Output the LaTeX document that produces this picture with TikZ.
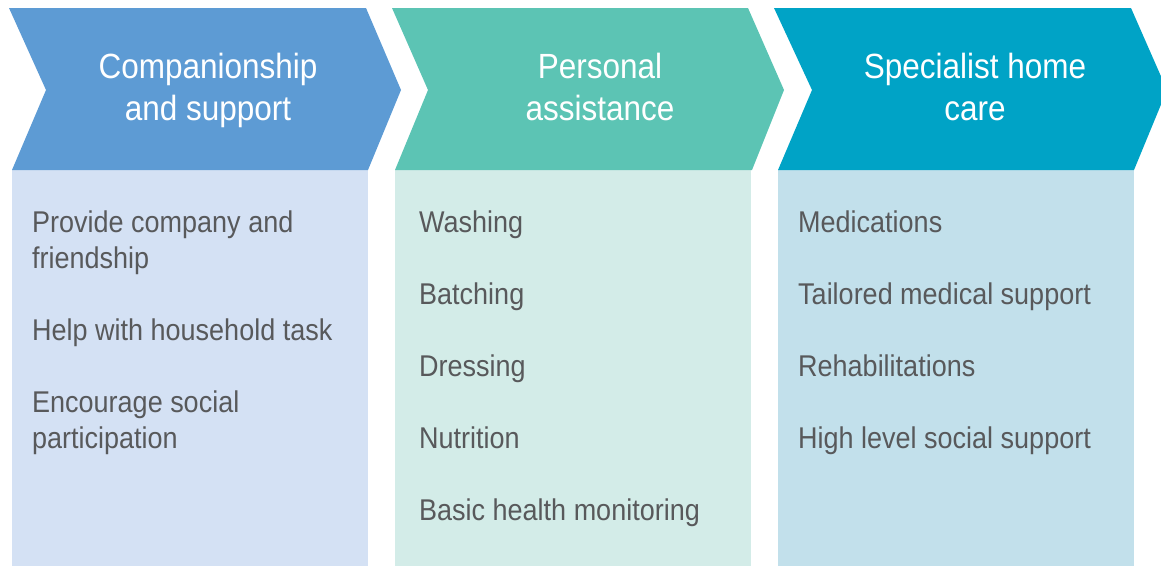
\documentclass[tikz,border=0pt]{standalone}
\usepackage{fontspec}
\setmainfont{Liberation Sans}[FakeStretch=0.9]
\definecolor{headA}{HTML}{5D9BD4}
\definecolor{bodyA}{HTML}{D4E1F4}
\definecolor{headB}{HTML}{5CC4B4}
\definecolor{bodyB}{HTML}{D3ECE8}
\definecolor{headC}{HTML}{00A3C6}
\definecolor{bodyC}{HTML}{C2E0EB}
\definecolor{txtgray}{HTML}{58595B}
\begin{document}
\begin{tikzpicture}[x=1pt,y=-1pt,
  head/.style={text=white,font=\fontsize{35}{42}\selectfont,anchor=base,inner sep=0pt},
  item/.style={text=txtgray,font=\fontsize{30}{36}\selectfont,anchor=base west,inner sep=0pt}]
\useasboundingbox (0,0) rectangle (1161,566);
% column A
\fill[bodyA] (12,170) rectangle (368,566);
\fill[headA] (9,8) -- (366,8) -- (401,90) -- (368,170) -- (12,170) -- (46,90) -- cycle;
% column B
\fill[bodyB] (395,170) rectangle (751,566);
\fill[headB] (392,8) -- (748,8) -- (784,90) -- (752,170) -- (395,170) -- (428,90) -- cycle;
% column C
\fill[bodyC] (778,170) rectangle (1134,566);
\fill[headC] (774,8) -- (1131,8) -- (1167,90) -- (1134,170) -- (778,170) -- (812,90) -- cycle;
% headings
\node[head] (hA1) at (208,78) {Companionship};
\node[head] (hA2) at (208,120) {and support};
\node[head] (hB1) at (600,78) {Personal};
\node[head] (hB2) at (600,120) {assistance};
\node[head] (hC1) at (975,78) {Specialist home};
\node[head] (hC2) at (975,120) {care};
% items A
\node[item] (a1) at (32,232) {Provide company and};
\node[item] (a2) at (32,268) {friendship};
\node[item] (a3) at (32,340) {Help with household task};
\node[item] (a4) at (32,412) {Encourage social};
\node[item] (a5) at (32,448) {participation};
% items B
\node[item] (b1) at (419,232) {Washing};
\node[item] (b2) at (419,304) {Batching};
\node[item] (b3) at (419,376) {Dressing};
\node[item] (b4) at (419,448) {Nutrition};
\node[item] (b5) at (419,520) {Basic health monitoring};
% items C
\node[item] (c1) at (798,232) {Medications};
\node[item] (c2) at (798,304) {Tailored medical support};
\node[item] (c3) at (798,376) {Rehabilitations};
\node[item] (c4) at (798,448) {High level social support};
\end{tikzpicture}
\end{document}
